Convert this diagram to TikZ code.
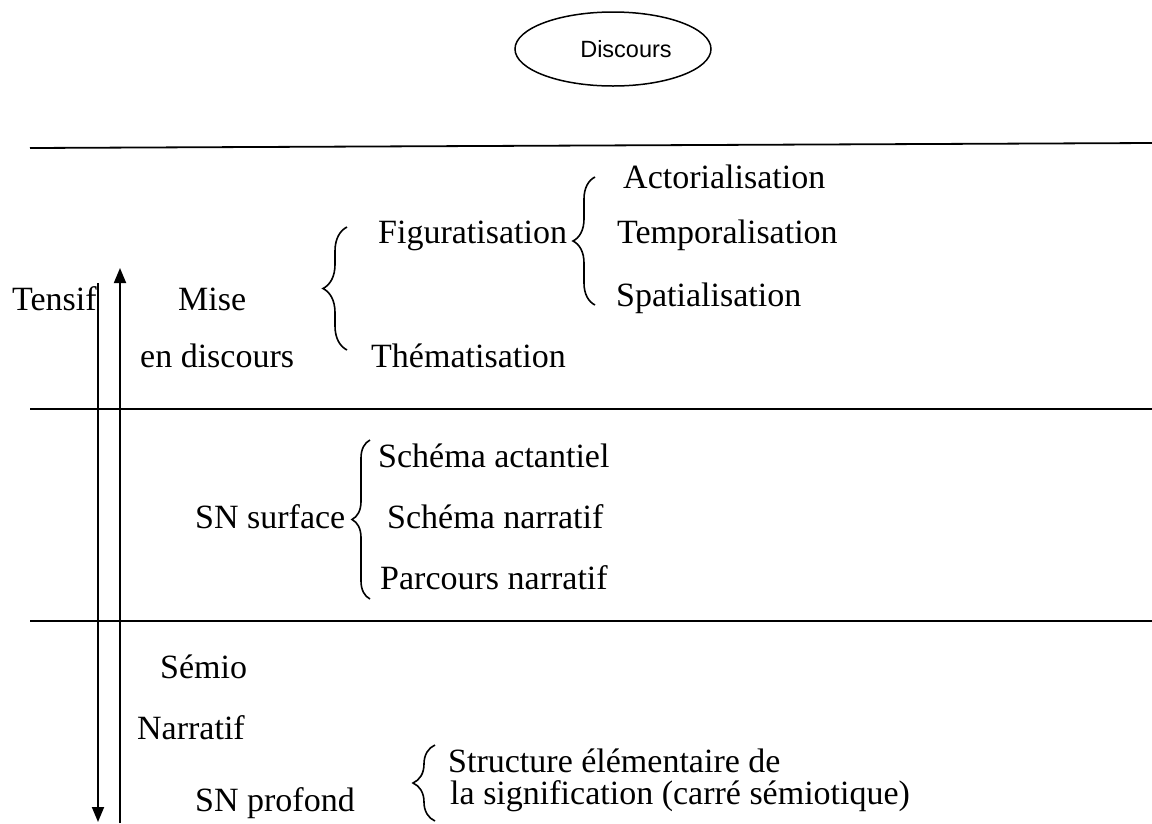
\documentclass[tikz,border=0pt]{standalone}
\usepackage{fontspec}
\setmainfont{Liberation Serif}
\newfontfamily\arialfont{Liberation Sans}
\usetikzlibrary{decorations.pathreplacing,arrows.meta,shapes.geometric}
\begin{document}
\begin{tikzpicture}[x=1pt,y=-1pt,
  lbl/.style={anchor=base west,inner sep=0pt,font=\fontsize{34}{40}\selectfont},
  rulel/.style={line width=1.8pt},
  arr/.style={line width=1.8pt},
  brc/.style={decorate,decoration={brace,amplitude=#1},line width=1.6pt}]
\useasboundingbox (0,0) rectangle (1152,823);
% title
\node[draw, ellipse, minimum width=196pt, minimum height=74pt, line width=1.5pt,
      font=\arialfont\fontsize{23.5}{28}\selectfont] (disc) at (613,49) {\hspace*{26pt}Discours};
% horizontal rules
\coordinate (l1a) at (30,148); \coordinate (l1b) at (1152,143);
\coordinate (l2a) at (30,409); \coordinate (l2b) at (1152,409);
\coordinate (l3a) at (30,621); \coordinate (l3b) at (1152,621);
\draw[rulel] (l1a) -- (l1b);
\draw[rulel] (l2a) -- (l2b);
\draw[rulel] (l3a) -- (l3b);
% vertical arrows
\coordinate (dtop) at (98,283); \coordinate (dbot) at (98,822);
\coordinate (utop) at (120,268); \coordinate (ubot) at (120,823);
\draw[arr,-{Triangle[width=12pt,length=15pt]}] (dtop) -- (dbot);
\draw[arr,-{Triangle[width=12pt,length=15pt]}] (ubot) -- (utop);
% labels
\node[lbl] (tens) at (12,310) {Tensif};
\node[lbl] (mise) at (178,310) {Mise};
\node[lbl] (endisc) at (140,367) {en discours};
\node[lbl] (fig) at (378,243) {Figuratisation};
\node[lbl] (them) at (371,367) {Thématisation};
\node[lbl] (act) at (623,188) {Actorialisation};
\node[lbl] (temp) at (617,243) {Temporalisation};
\node[lbl] (spat) at (616,306) {Spatialisation};
\node[lbl] (snsurf) at (195,528) {SN surface};
\node[lbl] (sact) at (378,467) {Schéma actantiel};
\node[lbl] (snarr) at (387,528) {Schéma narratif};
\node[lbl] (parc) at (380,589) {Parcours narratif};
\node[lbl] (semio) at (160,678) {Sémio};
\node[lbl] (narr) at (137,739) {Narratif};
\node[lbl] (snprof) at (195,811) {SN profond};
\node[lbl] (struct) at (448,772) {Structure élémentaire de};
\node[lbl] (signif) at (450,804) {la signification (carré sémiotique)};
% braces
\coordinate (b1s) at (347,350); \coordinate (b1e) at (347,227);
\draw[brc=24pt] (b1s) -- (b1e);
\coordinate (b2s) at (595,305); \coordinate (b2e) at (595,177);
\draw[brc=22pt] (b2s) -- (b2e);
\coordinate (b3s) at (370,599); \coordinate (b3e) at (370,440);
\draw[brc=18pt] (b3s) -- (b3e);
\coordinate (b4s) at (435,821); \coordinate (b4e) at (435,745);
\draw[brc=22pt] (b4s) -- (b4e);
\end{tikzpicture}
\end{document}
